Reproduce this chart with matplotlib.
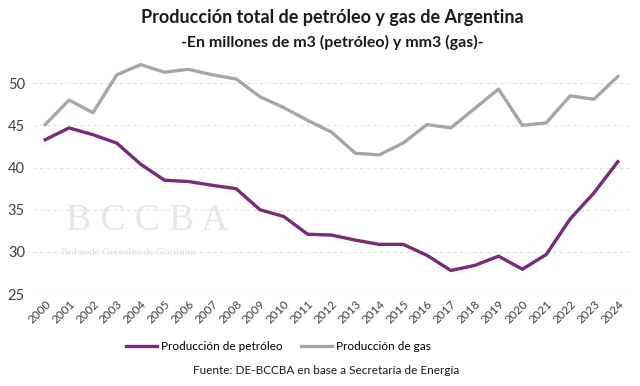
import matplotlib
matplotlib.use("Agg")
import matplotlib.pyplot as plt

plt.rcParams["font.family"] = ["Lato", "DejaVu Sans"]
narrow = ["Liberation Sans Narrow", "Lato", "DejaVu Sans"]

years = [str(y) for y in range(2000, 2025)]
petroleo = [43.3, 44.7, 43.9, 42.9, 40.4, 38.5, 38.35, 37.9, 37.5, 35.0, 34.2, 32.1, 32.0,
            31.4, 30.9, 30.9, 29.6, 27.8, 28.4, 29.5, 27.95, 29.7, 33.9, 37.0, 40.7]
gas = [45.1, 48.0, 46.5, 51.0, 52.2, 51.3, 51.65, 51.0, 50.5, 48.4, 47.1, 45.6, 44.2,
       41.7, 41.5, 42.9, 45.1, 44.7, 47.0, 49.3, 45.0, 45.3, 48.5, 48.1, 50.8]
yticks = [25, 30, 35, 40, 45, 50]

fig = plt.figure(figsize=(6.4, 3.86), dpi=100)
ax = fig.add_axes([0.052, 0.238, 0.932, 0.612])

x = range(len(years))
ax.plot(x, petroleo, color="#7a2a78", lw=2.4, label="Producción de petróleo", solid_joinstyle="round")
ax.plot(x, gas, color="#a6a6a6", lw=2.4, label="Producción de gas", solid_joinstyle="round")

ax.set_xlim(-0.5, len(years) - 0.5)
ax.set_ylim(25, 53)
ax.set_yticks(yticks)
ax.set_xticks(list(x))
ax.set_xticklabels(years, rotation=45, ha="right", rotation_mode="anchor", fontsize=8.5,
                   color="#404040", family=narrow)
for lab in ax.get_yticklabels():
    lab.set_family(narrow)
ax.tick_params(axis="y", labelsize=10.5, colors="#404040", length=0, pad=6)
ax.tick_params(axis="x", length=0, pad=3)
ax.grid(axis="y", color="#e0e0e0", linestyle=(0, (3, 3)), lw=0.8)
ax.axhline(25, color="#d9d9d9", lw=0.9)
for s in ax.spines.values():
    s.set_visible(False)

# marca de agua
ax.text(0.055, 0.31, "B C C B A", transform=ax.transAxes, fontsize=27, color="#e6e6e6",
        family="Liberation Serif", va="center")
ax.text(0.047, 0.175, "Bolsa de Cereales de Córdoba", transform=ax.transAxes, fontsize=8,
        color="#e0e0e0", family="Liberation Serif", va="center")

fig.text(0.52, 0.955, "Producción total de petróleo y gas de Argentina", ha="center", va="center",
         fontsize=13, fontweight="bold", color="#1a1a1a")
fig.text(0.52, 0.89, "-En millones de m3 (petróleo) y mm3 (gas)-", ha="center", va="center",
         fontsize=11.5, fontweight="bold", color="#1a1a1a")

fig.legend(loc="center", bbox_to_anchor=(0.435, 0.103), ncol=2, frameon=False,
           prop={"family": narrow, "size": 8.5},
           handlelength=2.6, columnspacing=1.6, handletextpad=0.3)
fig.text(0.51, 0.04, "Fuente: DE-BCCBA en base a Secretaría de Energía", ha="center", va="center",
         fontsize=8.5, color="#1a1a1a", family=narrow)

fig.savefig("out.png", dpi=100)
